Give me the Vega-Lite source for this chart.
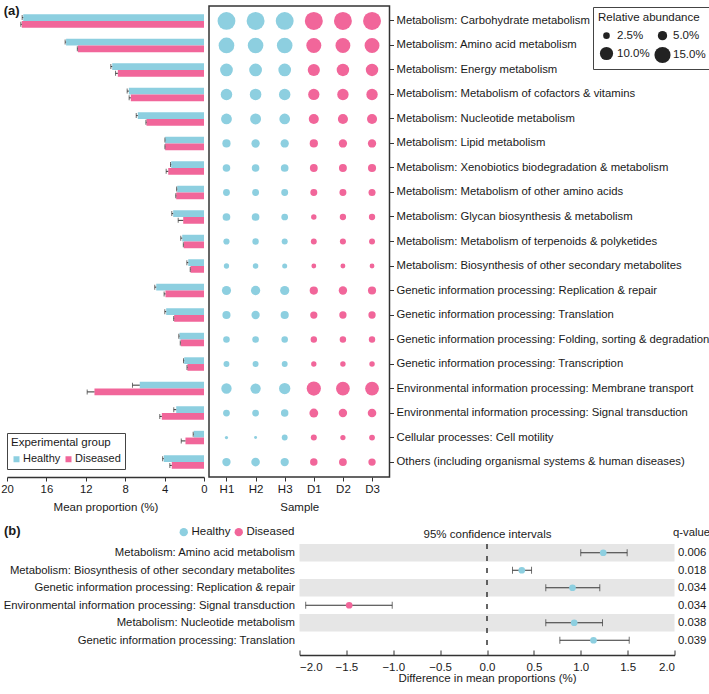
{
  "$schema": "https://vega.github.io/schema/vega-lite/v6.json",
  "padding": {"left": 0, "top": 5, "right": 2, "bottom": 2},
  "background": "white",
  "config": {
    "font": "Liberation Sans",
    "view": {"stroke": null},
    "axis": {"labelFont": "Liberation Sans", "labelFontSize": 11.3, "labelColor": "#1a1a1a", "titleFont": "Liberation Sans", "titleFontSize": 11.5, "titleFontWeight": "normal", "titleColor": "#1a1a1a", "domainColor": "#333", "tickColor": "#333", "grid": false},
    "legend": {"labelFont": "Liberation Sans", "labelFontSize": 11.5, "labelColor": "#1a1a1a", "titleFont": "Liberation Sans", "titleFontSize": 11.5, "titleFontWeight": "normal", "titleColor": "#1a1a1a"},
    "title": {"font": "Liberation Sans", "color": "#1a1a1a"}
  },
  "datasets": {
    "bars": [
      {"pathway": "Metabolism: Carbohydrate metabolism", "group": "Healthy", "value": 18.35, "hi": 18.46},
      {"pathway": "Metabolism: Carbohydrate metabolism", "group": "Diseased", "value": 18.5, "hi": 18.6},
      {"pathway": "Metabolism: Amino acid metabolism", "group": "Healthy", "value": 14.0, "hi": 14.1},
      {"pathway": "Metabolism: Amino acid metabolism", "group": "Diseased", "value": 12.8, "hi": 12.86},
      {"pathway": "Metabolism: Energy metabolism", "group": "Healthy", "value": 9.32, "hi": 9.46},
      {"pathway": "Metabolism: Energy metabolism", "group": "Diseased", "value": 8.75, "hi": 8.98},
      {"pathway": "Metabolism: Metabolism of cofactors & vitamins", "group": "Healthy", "value": 7.63, "hi": 7.8},
      {"pathway": "Metabolism: Metabolism of cofactors & vitamins", "group": "Diseased", "value": 7.43, "hi": 7.6},
      {"pathway": "Metabolism: Nucleotide metabolism", "group": "Healthy", "value": 6.72, "hi": 6.88},
      {"pathway": "Metabolism: Nucleotide metabolism", "group": "Diseased", "value": 5.84, "hi": 5.9},
      {"pathway": "Metabolism: Lipid metabolism", "group": "Healthy", "value": 3.94, "hi": 3.97},
      {"pathway": "Metabolism: Lipid metabolism", "group": "Diseased", "value": 3.94, "hi": 3.97},
      {"pathway": "Metabolism: Xenobiotics biodegradation & metabolism", "group": "Healthy", "value": 3.33, "hi": 3.4},
      {"pathway": "Metabolism: Xenobiotics biodegradation & metabolism", "group": "Diseased", "value": 3.63, "hi": 3.84},
      {"pathway": "Metabolism: Metabolism of other amino acids", "group": "Healthy", "value": 2.72, "hi": 2.78},
      {"pathway": "Metabolism: Metabolism of other amino acids", "group": "Diseased", "value": 2.82, "hi": 2.87},
      {"pathway": "Metabolism: Glycan biosynthesis & metabolism", "group": "Healthy", "value": 3.13, "hi": 3.27},
      {"pathway": "Metabolism: Glycan biosynthesis & metabolism", "group": "Diseased", "value": 2.11, "hi": 2.62},
      {"pathway": "Metabolism: Metabolism of terpenoids & polyketides", "group": "Healthy", "value": 2.21, "hi": 2.36},
      {"pathway": "Metabolism: Metabolism of terpenoids & polyketides", "group": "Diseased", "value": 2.05, "hi": 2.1},
      {"pathway": "Metabolism: Biosynthesis of other secondary metabolites", "group": "Healthy", "value": 1.6, "hi": 1.74},
      {"pathway": "Metabolism: Biosynthesis of other secondary metabolites", "group": "Diseased", "value": 1.37, "hi": 1.4},
      {"pathway": "Genetic information processing: Replication & repair", "group": "Healthy", "value": 4.85, "hi": 5.0},
      {"pathway": "Genetic information processing: Replication & repair", "group": "Diseased", "value": 3.91, "hi": 4.05},
      {"pathway": "Genetic information processing: Translation", "group": "Healthy", "value": 3.84, "hi": 3.98},
      {"pathway": "Genetic information processing: Translation", "group": "Diseased", "value": 3.03, "hi": 3.08},
      {"pathway": "Genetic information processing: Folding, sorting & degradation", "group": "Healthy", "value": 2.49, "hi": 2.56},
      {"pathway": "Genetic information processing: Folding, sorting & degradation", "group": "Diseased", "value": 2.36, "hi": 2.41},
      {"pathway": "Genetic information processing: Transcription", "group": "Healthy", "value": 2.01, "hi": 2.08},
      {"pathway": "Genetic information processing: Transcription", "group": "Diseased", "value": 1.68, "hi": 1.73},
      {"pathway": "Environmental information processing: Membrane transport", "group": "Healthy", "value": 6.52, "hi": 7.26},
      {"pathway": "Environmental information processing: Membrane transport", "group": "Diseased", "value": 11.12, "hi": 11.86},
      {"pathway": "Environmental information processing: Signal transduction", "group": "Healthy", "value": 2.82, "hi": 3.07},
      {"pathway": "Environmental information processing: Signal transduction", "group": "Diseased", "value": 4.28, "hi": 4.49},
      {"pathway": "Cellular processes: Cell motility", "group": "Healthy", "value": 1.04, "hi": 1.1},
      {"pathway": "Cellular processes: Cell motility", "group": "Diseased", "value": 1.88, "hi": 2.31},
      {"pathway": "Others (including organismal systems & human diseases)", "group": "Healthy", "value": 4.08, "hi": 4.2},
      {"pathway": "Others (including organismal systems & human diseases)", "group": "Diseased", "value": 3.27, "hi": 3.47}
    ],
    "bubbles": [
      {"pathway": "Metabolism: Carbohydrate metabolism", "sample": "H1", "group": "Healthy", "abundance": 18.3},
      {"pathway": "Metabolism: Carbohydrate metabolism", "sample": "H2", "group": "Healthy", "abundance": 18.5},
      {"pathway": "Metabolism: Carbohydrate metabolism", "sample": "H3", "group": "Healthy", "abundance": 18.3},
      {"pathway": "Metabolism: Carbohydrate metabolism", "sample": "D1", "group": "Diseased", "abundance": 18.6},
      {"pathway": "Metabolism: Carbohydrate metabolism", "sample": "D2", "group": "Diseased", "abundance": 18.4},
      {"pathway": "Metabolism: Carbohydrate metabolism", "sample": "D3", "group": "Diseased", "abundance": 18.5},
      {"pathway": "Metabolism: Amino acid metabolism", "sample": "H1", "group": "Healthy", "abundance": 14.1},
      {"pathway": "Metabolism: Amino acid metabolism", "sample": "H2", "group": "Healthy", "abundance": 13.9},
      {"pathway": "Metabolism: Amino acid metabolism", "sample": "H3", "group": "Healthy", "abundance": 14.0},
      {"pathway": "Metabolism: Amino acid metabolism", "sample": "D1", "group": "Diseased", "abundance": 12.9},
      {"pathway": "Metabolism: Amino acid metabolism", "sample": "D2", "group": "Diseased", "abundance": 12.7},
      {"pathway": "Metabolism: Amino acid metabolism", "sample": "D3", "group": "Diseased", "abundance": 12.8},
      {"pathway": "Metabolism: Energy metabolism", "sample": "H1", "group": "Healthy", "abundance": 9.3},
      {"pathway": "Metabolism: Energy metabolism", "sample": "H2", "group": "Healthy", "abundance": 9.4},
      {"pathway": "Metabolism: Energy metabolism", "sample": "H3", "group": "Healthy", "abundance": 9.25},
      {"pathway": "Metabolism: Energy metabolism", "sample": "D1", "group": "Diseased", "abundance": 8.5},
      {"pathway": "Metabolism: Energy metabolism", "sample": "D2", "group": "Diseased", "abundance": 8.9},
      {"pathway": "Metabolism: Energy metabolism", "sample": "D3", "group": "Diseased", "abundance": 8.85},
      {"pathway": "Metabolism: Metabolism of cofactors & vitamins", "sample": "H1", "group": "Healthy", "abundance": 7.6},
      {"pathway": "Metabolism: Metabolism of cofactors & vitamins", "sample": "H2", "group": "Healthy", "abundance": 7.7},
      {"pathway": "Metabolism: Metabolism of cofactors & vitamins", "sample": "H3", "group": "Healthy", "abundance": 7.6},
      {"pathway": "Metabolism: Metabolism of cofactors & vitamins", "sample": "D1", "group": "Diseased", "abundance": 7.3},
      {"pathway": "Metabolism: Metabolism of cofactors & vitamins", "sample": "D2", "group": "Diseased", "abundance": 7.5},
      {"pathway": "Metabolism: Metabolism of cofactors & vitamins", "sample": "D3", "group": "Diseased", "abundance": 7.5},
      {"pathway": "Metabolism: Nucleotide metabolism", "sample": "H1", "group": "Healthy", "abundance": 6.7},
      {"pathway": "Metabolism: Nucleotide metabolism", "sample": "H2", "group": "Healthy", "abundance": 6.85},
      {"pathway": "Metabolism: Nucleotide metabolism", "sample": "H3", "group": "Healthy", "abundance": 6.6},
      {"pathway": "Metabolism: Nucleotide metabolism", "sample": "D1", "group": "Diseased", "abundance": 5.8},
      {"pathway": "Metabolism: Nucleotide metabolism", "sample": "D2", "group": "Diseased", "abundance": 5.9},
      {"pathway": "Metabolism: Nucleotide metabolism", "sample": "D3", "group": "Diseased", "abundance": 5.8},
      {"pathway": "Metabolism: Lipid metabolism", "sample": "H1", "group": "Healthy", "abundance": 3.9},
      {"pathway": "Metabolism: Lipid metabolism", "sample": "H2", "group": "Healthy", "abundance": 4.0},
      {"pathway": "Metabolism: Lipid metabolism", "sample": "H3", "group": "Healthy", "abundance": 3.95},
      {"pathway": "Metabolism: Lipid metabolism", "sample": "D1", "group": "Diseased", "abundance": 3.9},
      {"pathway": "Metabolism: Lipid metabolism", "sample": "D2", "group": "Diseased", "abundance": 3.95},
      {"pathway": "Metabolism: Lipid metabolism", "sample": "D3", "group": "Diseased", "abundance": 3.95},
      {"pathway": "Metabolism: Xenobiotics biodegradation & metabolism", "sample": "H1", "group": "Healthy", "abundance": 3.3},
      {"pathway": "Metabolism: Xenobiotics biodegradation & metabolism", "sample": "H2", "group": "Healthy", "abundance": 3.3},
      {"pathway": "Metabolism: Xenobiotics biodegradation & metabolism", "sample": "H3", "group": "Healthy", "abundance": 3.4},
      {"pathway": "Metabolism: Xenobiotics biodegradation & metabolism", "sample": "D1", "group": "Diseased", "abundance": 3.5},
      {"pathway": "Metabolism: Xenobiotics biodegradation & metabolism", "sample": "D2", "group": "Diseased", "abundance": 3.6},
      {"pathway": "Metabolism: Xenobiotics biodegradation & metabolism", "sample": "D3", "group": "Diseased", "abundance": 3.8},
      {"pathway": "Metabolism: Metabolism of other amino acids", "sample": "H1", "group": "Healthy", "abundance": 2.7},
      {"pathway": "Metabolism: Metabolism of other amino acids", "sample": "H2", "group": "Healthy", "abundance": 2.7},
      {"pathway": "Metabolism: Metabolism of other amino acids", "sample": "H3", "group": "Healthy", "abundance": 2.75},
      {"pathway": "Metabolism: Metabolism of other amino acids", "sample": "D1", "group": "Diseased", "abundance": 2.8},
      {"pathway": "Metabolism: Metabolism of other amino acids", "sample": "D2", "group": "Diseased", "abundance": 2.8},
      {"pathway": "Metabolism: Metabolism of other amino acids", "sample": "D3", "group": "Diseased", "abundance": 2.85},
      {"pathway": "Metabolism: Glycan biosynthesis & metabolism", "sample": "H1", "group": "Healthy", "abundance": 3.4},
      {"pathway": "Metabolism: Glycan biosynthesis & metabolism", "sample": "H2", "group": "Healthy", "abundance": 3.4},
      {"pathway": "Metabolism: Glycan biosynthesis & metabolism", "sample": "H3", "group": "Healthy", "abundance": 2.6},
      {"pathway": "Metabolism: Glycan biosynthesis & metabolism", "sample": "D1", "group": "Diseased", "abundance": 1.7},
      {"pathway": "Metabolism: Glycan biosynthesis & metabolism", "sample": "D2", "group": "Diseased", "abundance": 2.3},
      {"pathway": "Metabolism: Glycan biosynthesis & metabolism", "sample": "D3", "group": "Diseased", "abundance": 2.3},
      {"pathway": "Metabolism: Metabolism of terpenoids & polyketides", "sample": "H1", "group": "Healthy", "abundance": 2.2},
      {"pathway": "Metabolism: Metabolism of terpenoids & polyketides", "sample": "H2", "group": "Healthy", "abundance": 2.35},
      {"pathway": "Metabolism: Metabolism of terpenoids & polyketides", "sample": "H3", "group": "Healthy", "abundance": 2.1},
      {"pathway": "Metabolism: Metabolism of terpenoids & polyketides", "sample": "D1", "group": "Diseased", "abundance": 2.0},
      {"pathway": "Metabolism: Metabolism of terpenoids & polyketides", "sample": "D2", "group": "Diseased", "abundance": 2.1},
      {"pathway": "Metabolism: Metabolism of terpenoids & polyketides", "sample": "D3", "group": "Diseased", "abundance": 2.05},
      {"pathway": "Metabolism: Biosynthesis of other secondary metabolites", "sample": "H1", "group": "Healthy", "abundance": 1.6},
      {"pathway": "Metabolism: Biosynthesis of other secondary metabolites", "sample": "H2", "group": "Healthy", "abundance": 1.75},
      {"pathway": "Metabolism: Biosynthesis of other secondary metabolites", "sample": "H3", "group": "Healthy", "abundance": 1.45},
      {"pathway": "Metabolism: Biosynthesis of other secondary metabolites", "sample": "D1", "group": "Diseased", "abundance": 1.35},
      {"pathway": "Metabolism: Biosynthesis of other secondary metabolites", "sample": "D2", "group": "Diseased", "abundance": 1.4},
      {"pathway": "Metabolism: Biosynthesis of other secondary metabolites", "sample": "D3", "group": "Diseased", "abundance": 1.35},
      {"pathway": "Genetic information processing: Replication & repair", "sample": "H1", "group": "Healthy", "abundance": 4.8},
      {"pathway": "Genetic information processing: Replication & repair", "sample": "H2", "group": "Healthy", "abundance": 4.95},
      {"pathway": "Genetic information processing: Replication & repair", "sample": "H3", "group": "Healthy", "abundance": 4.8},
      {"pathway": "Genetic information processing: Replication & repair", "sample": "D1", "group": "Diseased", "abundance": 3.9},
      {"pathway": "Genetic information processing: Replication & repair", "sample": "D2", "group": "Diseased", "abundance": 4.05},
      {"pathway": "Genetic information processing: Replication & repair", "sample": "D3", "group": "Diseased", "abundance": 3.8},
      {"pathway": "Genetic information processing: Translation", "sample": "H1", "group": "Healthy", "abundance": 3.8},
      {"pathway": "Genetic information processing: Translation", "sample": "H2", "group": "Healthy", "abundance": 3.95},
      {"pathway": "Genetic information processing: Translation", "sample": "H3", "group": "Healthy", "abundance": 3.8},
      {"pathway": "Genetic information processing: Translation", "sample": "D1", "group": "Diseased", "abundance": 3.0},
      {"pathway": "Genetic information processing: Translation", "sample": "D2", "group": "Diseased", "abundance": 3.05},
      {"pathway": "Genetic information processing: Translation", "sample": "D3", "group": "Diseased", "abundance": 3.05},
      {"pathway": "Genetic information processing: Folding, sorting & degradation", "sample": "H1", "group": "Healthy", "abundance": 2.5},
      {"pathway": "Genetic information processing: Folding, sorting & degradation", "sample": "H2", "group": "Healthy", "abundance": 2.5},
      {"pathway": "Genetic information processing: Folding, sorting & degradation", "sample": "H3", "group": "Healthy", "abundance": 2.45},
      {"pathway": "Genetic information processing: Folding, sorting & degradation", "sample": "D1", "group": "Diseased", "abundance": 2.35},
      {"pathway": "Genetic information processing: Folding, sorting & degradation", "sample": "D2", "group": "Diseased", "abundance": 2.4},
      {"pathway": "Genetic information processing: Folding, sorting & degradation", "sample": "D3", "group": "Diseased", "abundance": 2.35},
      {"pathway": "Genetic information processing: Transcription", "sample": "H1", "group": "Healthy", "abundance": 2.0},
      {"pathway": "Genetic information processing: Transcription", "sample": "H2", "group": "Healthy", "abundance": 2.05},
      {"pathway": "Genetic information processing: Transcription", "sample": "H3", "group": "Healthy", "abundance": 2.0},
      {"pathway": "Genetic information processing: Transcription", "sample": "D1", "group": "Diseased", "abundance": 1.65},
      {"pathway": "Genetic information processing: Transcription", "sample": "D2", "group": "Diseased", "abundance": 1.7},
      {"pathway": "Genetic information processing: Transcription", "sample": "D3", "group": "Diseased", "abundance": 1.7},
      {"pathway": "Environmental information processing: Membrane transport", "sample": "H1", "group": "Healthy", "abundance": 6.2},
      {"pathway": "Environmental information processing: Membrane transport", "sample": "H2", "group": "Healthy", "abundance": 6.1},
      {"pathway": "Environmental information processing: Membrane transport", "sample": "H3", "group": "Healthy", "abundance": 7.3},
      {"pathway": "Environmental information processing: Membrane transport", "sample": "D1", "group": "Diseased", "abundance": 11.6},
      {"pathway": "Environmental information processing: Membrane transport", "sample": "D2", "group": "Diseased", "abundance": 10.9},
      {"pathway": "Environmental information processing: Membrane transport", "sample": "D3", "group": "Diseased", "abundance": 10.9},
      {"pathway": "Environmental information processing: Signal transduction", "sample": "H1", "group": "Healthy", "abundance": 2.65},
      {"pathway": "Environmental information processing: Signal transduction", "sample": "H2", "group": "Healthy", "abundance": 2.6},
      {"pathway": "Environmental information processing: Signal transduction", "sample": "H3", "group": "Healthy", "abundance": 3.2},
      {"pathway": "Environmental information processing: Signal transduction", "sample": "D1", "group": "Diseased", "abundance": 4.5},
      {"pathway": "Environmental information processing: Signal transduction", "sample": "D2", "group": "Diseased", "abundance": 4.1},
      {"pathway": "Environmental information processing: Signal transduction", "sample": "D3", "group": "Diseased", "abundance": 4.25},
      {"pathway": "Cellular processes: Cell motility", "sample": "H1", "group": "Healthy", "abundance": 0.6},
      {"pathway": "Cellular processes: Cell motility", "sample": "H2", "group": "Healthy", "abundance": 0.5},
      {"pathway": "Cellular processes: Cell motility", "sample": "H3", "group": "Healthy", "abundance": 2.0},
      {"pathway": "Cellular processes: Cell motility", "sample": "D1", "group": "Diseased", "abundance": 2.1},
      {"pathway": "Cellular processes: Cell motility", "sample": "D2", "group": "Diseased", "abundance": 1.6},
      {"pathway": "Cellular processes: Cell motility", "sample": "D3", "group": "Diseased", "abundance": 1.95},
      {"pathway": "Others (including organismal systems & human diseases)", "sample": "H1", "group": "Healthy", "abundance": 4.0},
      {"pathway": "Others (including organismal systems & human diseases)", "sample": "H2", "group": "Healthy", "abundance": 4.3},
      {"pathway": "Others (including organismal systems & human diseases)", "sample": "H3", "group": "Healthy", "abundance": 3.95},
      {"pathway": "Others (including organismal systems & human diseases)", "sample": "D1", "group": "Diseased", "abundance": 3.2},
      {"pathway": "Others (including organismal systems & human diseases)", "sample": "D2", "group": "Diseased", "abundance": 3.5},
      {"pathway": "Others (including organismal systems & human diseases)", "sample": "D3", "group": "Diseased", "abundance": 3.1}
    ],
    "ci": [
      {"order": 1, "pathway": "Metabolism: Amino acid metabolism", "lo": 1.0, "hi": 1.495, "diff": 1.24, "group": "Healthy", "qkey": "1|0.006"},
      {"order": 2, "pathway": "Metabolism: Biosynthesis of other secondary metabolites", "lo": 0.272, "hi": 0.475, "diff": 0.371, "group": "Healthy", "qkey": "2|0.018"},
      {"order": 3, "pathway": "Genetic information processing: Replication & repair", "lo": 0.627, "hi": 1.203, "diff": 0.912, "group": "Healthy", "qkey": "3|0.034"},
      {"order": 4, "pathway": "Environmental information processing: Signal transduction", "lo": -1.934, "hi": -1.011, "diff": -1.47, "group": "Diseased", "qkey": "4|0.034"},
      {"order": 5, "pathway": "Metabolism: Nucleotide metabolism", "lo": 0.627, "hi": 1.232, "diff": 0.93, "group": "Healthy", "qkey": "5|0.038"},
      {"order": 6, "pathway": "Genetic information processing: Translation", "lo": 0.777, "hi": 1.517, "diff": 1.136, "group": "Healthy", "qkey": "6|0.039"}
    ]
  },
  "columns": 1,
  "align": "none",
  "spacing": 11,
  "resolve": {"scale": {"color": "independent", "size": "independent"}},
  "concat": [
    {
      "hconcat": [
        {
          "width": 197,
          "height": 471,
          "title": {"text": "(a)", "anchor": "start", "frame": "bounds", "fontSize": 13, "fontWeight": "bold", "offset": -12, "dx": 3},
          "data": {"name": "bars"},
          "encoding": {
            "y": {"field": "pathway", "type": "nominal", "sort": null, "axis": null, "scale": {"paddingInner": 0.45, "paddingOuter": 0.335}},
            "yOffset": {"field": "group", "type": "nominal", "sort": ["Healthy", "Diseased"], "scale": {"paddingInner": 0, "paddingOuter": 0}}
          },
          "layer": [
            {
              "mark": {"type": "bar"},
              "encoding": {
                "x": {"field": "value", "type": "quantitative", "scale": {"domain": [0, 20], "reverse": true, "nice": false}, "axis": {"values": [0, 4, 8, 12, 16, 20], "labelOverlap": false, "labelFlush": false, "title": "Mean proportion (%)", "tickSize": 4, "labelPadding": 2, "titlePadding": 7, "domainWidth": 1.5}},
                "color": {"field": "group", "type": "nominal", "scale": {"domain": ["Healthy", "Diseased"], "range": ["#8DCFE0", "#F1669A"]}, "legend": {"title": "Experimental group", "orient": "none", "legendX": 0, "legendY": 427, "direction": "horizontal", "symbolType": "square", "symbolSize": 36, "strokeColor": "#444", "fillColor": "white", "padding": 4, "columnPadding": 2, "labelOffset": 1, "titlePadding": 5, "labelFontSize": 11}}
              }
            },
            {
              "mark": {"type": "rule", "color": "#333", "strokeWidth": 1},
              "encoding": {"x": {"field": "value", "type": "quantitative", "axis": {"values": [0, 4, 8, 12, 16, 20], "labelOverlap": false, "labelFlush": false, "title": "Mean proportion (%)", "tickSize": 4, "labelPadding": 2, "titlePadding": 7, "domainWidth": 1.5}}, "x2": {"field": "hi"}}
            },
            {
              "mark": {"type": "tick", "color": "#333", "thickness": 1, "size": 5, "orient": "vertical"},
              "encoding": {"x": {"field": "hi", "type": "quantitative", "axis": {"values": [0, 4, 8, 12, 16, 20], "labelOverlap": false, "labelFlush": false, "title": "Mean proportion (%)", "tickSize": 4, "labelPadding": 2, "titlePadding": 7, "domainWidth": 1.5}}}
            }
          ]
        },
        {
          "width": 180.5,
          "height": 471,
          "view": {"stroke": "#333", "strokeWidth": 1.5},
          "data": {"name": "bubbles"},
          "mark": {"type": "circle", "opacity": 1},
          "encoding": {
            "x": {"field": "sample", "type": "nominal", "sort": null, "scale": {"type": "point", "padding": 0.6}, "axis": {"title": "Sample", "labelAngle": 0, "tickSize": 4, "domain": false, "labelPadding": 2, "titlePadding": 7, "labelFontSize": 11.5}},
            "y": {"field": "pathway", "type": "nominal", "sort": null, "scale": {"type": "band", "paddingInner": 0.45, "paddingOuter": 0.335}, "axis": {"orient": "right", "title": null, "tickSize": 4, "domain": false, "labelPadding": 2.5, "labelLimit": 400}},
            "size": {"field": "abundance", "type": "quantitative", "scale": {"domain": [0, 20], "range": [0, 348]}, "legend": {"title": "Relative abundance", "orient": "none", "legendX": 586, "legendY": 1, "values": [2.5, 10, 5, 15], "columns": 2, "labelExpr": "format(datum.value, '.1f') + '%'", "symbolFillColor": "#222", "symbolStrokeWidth": 0, "symbolOpacity": 1, "strokeColor": "#444", "fillColor": "white", "padding": 5, "columnPadding": 4, "rowPadding": 5, "labelOffset": 2, "titlePadding": 6}},
            "color": {"field": "group", "type": "nominal", "scale": {"domain": ["Healthy", "Diseased"], "range": ["#8DCFE0", "#F1669A"]}, "legend": null}
          }
        }
      ],
      "spacing": 0,
      "resolve": {"scale": {"color": "independent"}}
    },
    {
      "hconcat": [
        {
          "width": 287.5,
          "height": 105,
          "title": {"text": "(b)", "anchor": "start", "frame": "group", "fontSize": 13, "fontWeight": "bold", "offset": -12, "dx": -3},
          "data": {"name": "ci"},
          "mark": {"type": "text", "text": ""},
          "encoding": {
            "y": {"field": "pathway", "type": "nominal", "sort": null, "scale": {"paddingInner": 0, "paddingOuter": 0}, "axis": {"orient": "right", "title": null, "domain": false, "ticks": false, "labelAlign": "right", "labelPadding": 0, "labelLimit": 400}},
            "color": {"field": "group", "type": "nominal", "scale": {"domain": ["Healthy", "Diseased"], "range": ["#8DCFE0", "#F1669A"]}, "legend": {"title": null, "orient": "none", "legendX": 171, "legendY": -18, "direction": "horizontal", "symbolType": "circle", "symbolSize": 70, "columnPadding": 2, "labelOffset": 2}}
          }
        },
        {
          "width": 375,
          "height": 105,
          "data": {"name": "ci"},
          "layer": [
            {
              "mark": {"type": "rect"},
              "encoding": {
                "y": {"field": "pathway", "type": "nominal", "sort": null, "scale": {"paddingInner": 0, "paddingOuter": 0}, "axis": null},
                "x": {"datum": -2, "type": "quantitative", "scale": {"domain": [-2, 2], "nice": false}, "axis": {"orient": "bottom", "values": [-2, -1.5, -1, -0.5, 0, 0.5, 1, 1.5, 2], "format": ".1f", "title": "Difference in mean proportions (%)", "offset": 6, "tickSize": -5, "labelPadding": 11, "titlePadding": 0, "domainWidth": 1.5, "labelFontSize": 11.5}},
                "x2": {"datum": 2},
                "fill": {"condition": {"test": "datum.order % 2 == 1", "value": "#e6e6e6"}, "value": "transparent"}
              }
            },
            {
              "data": {"values": [{}]},
              "mark": {"type": "rule", "strokeDash": [5, 7], "color": "#333", "strokeWidth": 1.5},
              "encoding": {"x": {"datum": 0, "type": "quantitative", "axis": {"orient": "top", "title": "95% confidence intervals", "labels": false, "ticks": false, "domain": false, "titlePadding": 5}}}
            },
            {
              "mark": {"type": "rule", "color": "#333", "strokeWidth": 1},
              "encoding": {
                "y": {"field": "pathway", "type": "nominal", "sort": null, "scale": {"paddingInner": 0, "paddingOuter": 0}, "axis": null},
                "x": {"field": "lo", "type": "quantitative", "axis": null},
                "x2": {"field": "hi"}
              }
            },
            {
              "mark": {"type": "tick", "color": "#333", "thickness": 1, "size": 7, "orient": "vertical"},
              "encoding": {"y": {"field": "pathway", "type": "nominal", "sort": null, "scale": {"paddingInner": 0, "paddingOuter": 0}, "axis": null}, "x": {"field": "lo", "type": "quantitative", "axis": null}}
            },
            {
              "mark": {"type": "tick", "color": "#333", "thickness": 1, "size": 7, "orient": "vertical"},
              "encoding": {"y": {"field": "pathway", "type": "nominal", "sort": null, "scale": {"paddingInner": 0, "paddingOuter": 0}, "axis": null}, "x": {"field": "hi", "type": "quantitative", "axis": null}}
            },
            {
              "mark": {"type": "circle", "size": 45, "opacity": 1},
              "encoding": {
                "y": {"field": "pathway", "type": "nominal", "sort": null, "scale": {"paddingInner": 0, "paddingOuter": 0}, "axis": null},
                "x": {"field": "diff", "type": "quantitative", "axis": null},
                "color": {"field": "group", "type": "nominal", "scale": {"domain": ["Healthy", "Diseased"], "range": ["#8DCFE0", "#F1669A"]}, "legend": null}
              }
            },
            {
              "mark": {"type": "text", "text": ""},
              "encoding": {
                "y": {"field": "qkey", "type": "nominal", "sort": null, "scale": {"paddingInner": 0, "paddingOuter": 0}, "axis": {"orient": "right", "title": "q-value", "titleAngle": 0, "titleAlign": "left", "titleBaseline": "middle", "titleX": -2, "titleY": -12, "titleFontSize": 11.3, "labelExpr": "split(datum.label, '|')[1]", "domain": false, "ticks": false, "labelPadding": 3}}
              }
            }
          ],
          "resolve": {"scale": {"y": "independent"}, "axis": {"x": "independent"}}
        }
      ],
      "spacing": 3.5,
      "resolve": {"scale": {"color": "independent"}}
    }
  ]
}
